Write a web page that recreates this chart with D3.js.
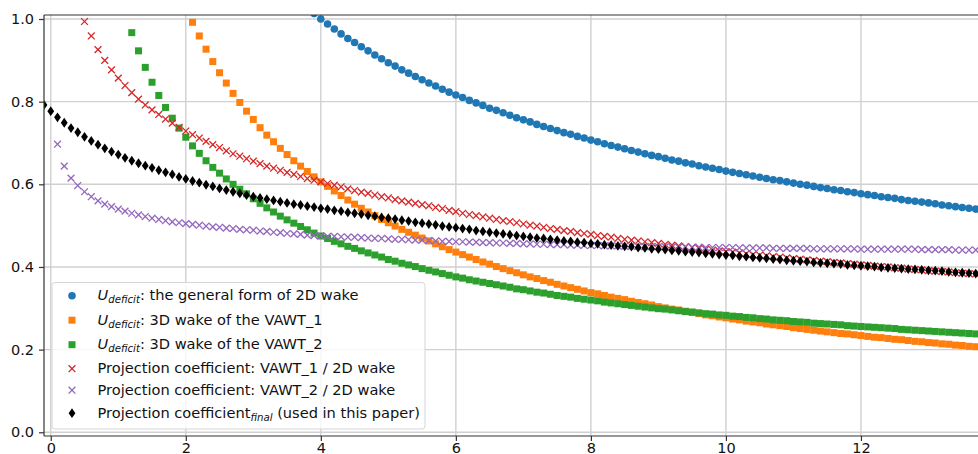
<!DOCTYPE html>
<html>
<head>
<meta charset="utf-8">
<script src="https://cdn.jsdelivr.net/npm/d3@7"></script>
<style>
  html, body { margin: 0; padding: 0; background: #fff; }
  svg { display: block; font-family: "DejaVu Sans", sans-serif; }
</style>
</head>
<body>
<div id="main"></div>
<script>
const w = 978, h = 454;

// sample spacing along x (all series are sampled every 0.1)
const step = 0.1;

// U_deficit, general 2D wake (x from 3.8)
const blueStart = 3.8;
const blueY = [
  1.026, 1.013,
  1.000, 0.988, 0.976, 0.964, 0.953, 0.943, 0.933, 0.923, 0.913, 0.904,
  0.894, 0.886, 0.877, 0.869, 0.861, 0.853, 0.845, 0.838, 0.830, 0.823,
  0.816, 0.810, 0.803, 0.797, 0.791, 0.784, 0.779, 0.773, 0.767, 0.761,
  0.756, 0.751, 0.745, 0.740, 0.735, 0.730, 0.725, 0.721, 0.716, 0.712,
  0.707, 0.703, 0.698, 0.694, 0.690, 0.686, 0.682, 0.678, 0.674, 0.670,
  0.667, 0.663, 0.659, 0.656, 0.652, 0.649, 0.645, 0.642, 0.639, 0.636,
  0.632, 0.629, 0.626, 0.623, 0.620, 0.617, 0.614, 0.611, 0.609, 0.606,
  0.603, 0.600, 0.598, 0.595, 0.592, 0.590, 0.587, 0.585, 0.582, 0.580,
  0.577, 0.575, 0.573, 0.570, 0.568, 0.566, 0.563, 0.561, 0.559, 0.557,
  0.555, 0.553, 0.550, 0.548, 0.546, 0.544, 0.542, 0.540, 0.538, 0.536
];

// U_deficit, 3D wake of VAWT_1 (x from 2.1)
const orangeStart = 2.1;
const orangeY = [
  0.992, 0.959, 0.927, 0.897, 0.870, 0.845, 0.820, 0.798, 0.777,
  0.757, 0.737, 0.719, 0.703, 0.687, 0.672, 0.657, 0.644, 0.631, 0.618,
  0.606, 0.595, 0.584, 0.573, 0.562, 0.552, 0.542, 0.533, 0.524, 0.515,
  0.507, 0.499, 0.491, 0.484, 0.477, 0.470, 0.463, 0.456, 0.449, 0.442,
  0.436, 0.430, 0.424, 0.418, 0.412, 0.407, 0.401, 0.396, 0.391, 0.386,
  0.381, 0.376, 0.372, 0.367, 0.363, 0.358, 0.354, 0.350, 0.346, 0.342,
  0.338, 0.335, 0.331, 0.327, 0.324, 0.321, 0.317, 0.314, 0.311, 0.308,
  0.304, 0.301, 0.298, 0.296, 0.293, 0.290, 0.287, 0.284, 0.282, 0.279,
  0.277, 0.274, 0.272, 0.269, 0.267, 0.265, 0.262, 0.260, 0.258, 0.256,
  0.253, 0.251, 0.249, 0.247, 0.245, 0.243, 0.241, 0.239, 0.238, 0.236,
  0.234, 0.232, 0.230, 0.229, 0.227, 0.225, 0.224, 0.222, 0.220, 0.219,
  0.217, 0.216, 0.214, 0.213, 0.211, 0.210, 0.208, 0.207, 0.205, 0.204
];

// U_deficit, 3D wake of VAWT_2 (x from 1.2)
const greenStart = 1.2;
const greenY = [
  0.967, 0.923, 0.883, 0.847, 0.815, 0.786, 0.760, 0.736,
  0.714, 0.693, 0.675, 0.657, 0.641, 0.627, 0.613, 0.600, 0.588, 0.577,
  0.565, 0.554, 0.543, 0.533, 0.523, 0.514, 0.506, 0.498, 0.490, 0.482,
  0.475, 0.469, 0.462, 0.456, 0.450, 0.445, 0.439, 0.434, 0.429, 0.424,
  0.418, 0.414, 0.409, 0.405, 0.401, 0.396, 0.392, 0.388, 0.384, 0.380,
  0.376, 0.373, 0.369, 0.366, 0.363, 0.360, 0.357, 0.354, 0.351, 0.347,
  0.345, 0.342, 0.339, 0.337, 0.334, 0.331, 0.329, 0.327, 0.324, 0.322,
  0.320, 0.318, 0.315, 0.313, 0.311, 0.309, 0.307, 0.305, 0.303, 0.301,
  0.299, 0.298, 0.296, 0.294, 0.292, 0.291, 0.289, 0.287, 0.286, 0.284,
  0.283, 0.281, 0.280, 0.278, 0.277, 0.275, 0.274, 0.272, 0.271, 0.270,
  0.268, 0.267, 0.266, 0.264, 0.263, 0.262, 0.261, 0.260, 0.258, 0.257,
  0.256, 0.255, 0.254, 0.253, 0.252, 0.251, 0.249, 0.248, 0.247, 0.246,
  0.245, 0.244, 0.243, 0.242, 0.241, 0.240, 0.239, 0.238, 0.237, 0.236
];

// projection coefficient VAWT_1 / 2D wake (x from 0.5)
const redStart = 0.5;
const redY = [
  0.994, 0.959, 0.926, 0.900, 0.877,
  0.857, 0.839, 0.822, 0.806, 0.792, 0.780, 0.769, 0.758, 0.748, 0.738,
  0.729, 0.720, 0.712, 0.704, 0.696, 0.689, 0.681, 0.674, 0.668, 0.662,
  0.656, 0.650, 0.644, 0.639, 0.634, 0.629, 0.624, 0.619, 0.614, 0.610,
  0.606, 0.602, 0.598, 0.594, 0.589, 0.585, 0.581, 0.578, 0.574, 0.570,
  0.567, 0.563, 0.560, 0.557, 0.554, 0.551, 0.548, 0.544, 0.541, 0.537,
  0.534, 0.530, 0.527, 0.524, 0.521, 0.518, 0.515, 0.512, 0.510, 0.507,
  0.504, 0.501, 0.499, 0.496, 0.493, 0.491, 0.488, 0.486, 0.483, 0.481,
  0.479, 0.476, 0.474, 0.472, 0.469, 0.467, 0.465, 0.463, 0.461, 0.459,
  0.457, 0.455, 0.453, 0.451, 0.449, 0.447, 0.445, 0.443, 0.441, 0.439,
  0.437, 0.436, 0.434, 0.432, 0.430, 0.429, 0.427, 0.425, 0.424, 0.422,
  0.420, 0.419, 0.417, 0.416, 0.414, 0.413, 0.411, 0.410, 0.408, 0.407,
  0.405, 0.404, 0.402, 0.401, 0.400, 0.398, 0.397, 0.395, 0.394, 0.393,
  0.391, 0.390, 0.389, 0.388, 0.386, 0.385, 0.384, 0.383, 0.381, 0.380
];

// projection coefficient VAWT_2 / 2D wake (x from 0.1)
const purpleStart = 0.1;
const purpleY = [
  0.697, 0.644, 0.615, 0.597, 0.582, 0.570, 0.560, 0.552, 0.546,
  0.540, 0.535, 0.530, 0.526, 0.522, 0.518, 0.515, 0.512, 0.509, 0.507,
  0.505, 0.503, 0.501, 0.499, 0.497, 0.496, 0.494, 0.493, 0.491, 0.490,
  0.489, 0.487, 0.486, 0.484, 0.483, 0.481, 0.480, 0.479, 0.477, 0.476,
  0.475, 0.474, 0.474, 0.473, 0.472, 0.472, 0.471, 0.470, 0.469, 0.469,
  0.468, 0.467, 0.467, 0.466, 0.465, 0.465, 0.464, 0.463, 0.462, 0.462,
  0.461, 0.461, 0.460, 0.460, 0.459, 0.459, 0.458, 0.458, 0.457, 0.457,
  0.456, 0.456, 0.455, 0.455, 0.454, 0.454, 0.454, 0.453, 0.453, 0.452,
  0.452, 0.452, 0.451, 0.451, 0.451, 0.450, 0.450, 0.450, 0.449, 0.449,
  0.449, 0.449, 0.448, 0.448, 0.448, 0.448, 0.448, 0.447, 0.447, 0.447,
  0.447, 0.447, 0.446, 0.446, 0.446, 0.446, 0.446, 0.445, 0.445, 0.445,
  0.445, 0.445, 0.445, 0.444, 0.444, 0.444, 0.444, 0.444, 0.444, 0.444,
  0.443, 0.443, 0.443, 0.443, 0.443, 0.443, 0.443, 0.443, 0.443, 0.442,
  0.442, 0.442, 0.442, 0.442, 0.441, 0.441, 0.441, 0.441, 0.441, 0.441
];

// projection coefficient final (x from -0.1)
const blackStart = -0.1;
const blackY = [
  0.792,
  0.777, 0.762, 0.749, 0.736, 0.726, 0.715, 0.705, 0.696, 0.687, 0.679,
  0.672, 0.664, 0.657, 0.651, 0.645, 0.640, 0.634, 0.629, 0.624, 0.618,
  0.613, 0.608, 0.604, 0.599, 0.595, 0.590, 0.586, 0.582, 0.578, 0.574,
  0.570, 0.567, 0.564, 0.561, 0.558, 0.555, 0.552, 0.550, 0.547, 0.545,
  0.542, 0.540, 0.537, 0.535, 0.532, 0.530, 0.528, 0.525, 0.523, 0.520,
  0.518, 0.516, 0.513, 0.511, 0.508, 0.506, 0.504, 0.502, 0.499, 0.497,
  0.495, 0.493, 0.491, 0.488, 0.486, 0.484, 0.482, 0.480, 0.478, 0.476,
  0.474, 0.472, 0.470, 0.469, 0.467, 0.465, 0.463, 0.462, 0.460, 0.459,
  0.457, 0.456, 0.454, 0.453, 0.451, 0.450, 0.449, 0.447, 0.446, 0.444,
  0.443, 0.442, 0.440, 0.439, 0.437, 0.436, 0.435, 0.433, 0.432, 0.430,
  0.429, 0.428, 0.426, 0.425, 0.423, 0.422, 0.421, 0.419, 0.418, 0.416,
  0.415, 0.414, 0.413, 0.411, 0.410, 0.409, 0.408, 0.407, 0.405, 0.404,
  0.403, 0.402, 0.401, 0.399, 0.398, 0.397, 0.396, 0.395, 0.394, 0.393,
  0.392, 0.391, 0.390, 0.388, 0.387, 0.386, 0.385, 0.384, 0.383, 0.382
];

const xTicks = [0, 2, 4, 6, 8, 10, 12, 14];
const yTicks = [0.0, 0.2, 0.4, 0.6, 0.8, 1.0];

// plot box, right edge sits outside the window like in the original crop
const plotL = 44, plotT = 15, plotB = 436, plotR = 996;

const x = d3.scaleLinear().domain([-0.1, 14.0]).range([plotL, plotR]);
const y = d3.scaleLinear().domain([-0.009, 1.0097]).range([plotB, plotT]);

const toPoints = (start, ys) => ys.map((v, i) => ({ x: +(start + i * step).toFixed(1), y: v }));

const series = [
  { name: 'blue',   color: '#1f77b4', shape: 'circle',  pts: toPoints(blueStart, blueY) },
  { name: 'orange', color: '#ff7f0e', shape: 'square',  pts: toPoints(orangeStart, orangeY) },
  { name: 'green',  color: '#2ca02c', shape: 'square',  pts: toPoints(greenStart, greenY) },
  { name: 'red',    color: '#d62728', shape: 'x',       pts: toPoints(redStart, redY) },
  { name: 'purple', color: '#9467bd', shape: 'x',       pts: toPoints(purpleStart, purpleY) },
  { name: 'black',  color: '#000000', shape: 'diamond', pts: toPoints(blackStart, blackY) }
];

const svg = d3.select('#main')
  .append('svg')
  .attr('width', w)
  .attr('height', h);

svg.append('defs').append('clipPath')
  .attr('id', 'plot-clip')
  .append('rect')
  .attr('x', plotL).attr('y', plotT)
  .attr('width', plotR - plotL).attr('height', plotB - plotT);

// grid
const grid = svg.append('g').attr('class', 'grid');
grid.selectAll('line.vx')
  .data(xTicks)
  .enter()
  .append('line')
  .attr('x1', d => x(d)).attr('x2', d => x(d))
  .attr('y1', plotT).attr('y2', plotB)
  .attr('stroke', '#d0d0d0')
  .attr('stroke-width', 1.4);
grid.selectAll('line.hy')
  .data(yTicks)
  .enter()
  .append('line')
  .attr('x1', plotL).attr('x2', plotR)
  .attr('y1', d => y(d)).attr('y2', d => y(d))
  .attr('stroke', '#d0d0d0')
  .attr('stroke-width', 1.4);

// marker drawing
function drawMarker(sel, shape, color) {
  if (shape === 'circle') {
    sel.append('circle').attr('r', 3.8).attr('fill', color);
  } else if (shape === 'square') {
    sel.append('rect')
      .attr('x', -3.5).attr('y', -3.5)
      .attr('width', 7).attr('height', 7)
      .attr('fill', color);
  } else if (shape === 'x') {
    sel.append('path')
      .attr('d', 'M-3.4,-3.4L3.4,3.4M-3.4,3.4L3.4,-3.4')
      .attr('stroke', color)
      .attr('stroke-width', 1.3)
      .attr('fill', 'none');
  } else {
    sel.append('path')
      .attr('d', 'M0,-4.9L3.4,0L0,4.9L-3.4,0Z')
      .attr('fill', color);
  }
}

const plot = svg.append('g').attr('clip-path', 'url(#plot-clip)');
series.forEach(s => {
  const g = plot.append('g').attr('class', 'series-' + s.name);
  g.selectAll('g')
    .data(s.pts)
    .enter()
    .append('g')
    .attr('transform', d => 'translate(' + x(d.x) + ',' + y(d.y) + ')')
    .each(function () { drawMarker(d3.select(this), s.shape, s.color); });
});

// axes
const xAxis = d3.axisBottom(x)
  .tickValues(xTicks)
  .tickFormat(d3.format('d'))
  .tickSize(5)
  .tickPadding(2)
  .tickSizeOuter(0);
const yAxis = d3.axisLeft(y)
  .tickValues(yTicks)
  .tickFormat(d3.format('.1f'))
  .tickSize(5)
  .tickPadding(5)
  .tickSizeOuter(0);

const xg = svg.append('g').attr('transform', 'translate(0,' + plotB + ')').call(xAxis);
const yg = svg.append('g').attr('transform', 'translate(' + plotL + ',0)').call(yAxis);
[xg, yg].forEach(g => {
  g.select('.domain').remove();
  g.selectAll('.tick line').attr('stroke', '#333').attr('stroke-width', 1.2);
  g.selectAll('.tick text')
    .attr('fill', '#111')
    .style('font-family', '"DejaVu Sans", sans-serif')
    .style('font-size', '14.5px');
});

// spines: left, top, bottom
const spines = svg.append('g')
  .attr('stroke', '#333')
  .attr('stroke-width', 1.2)
  .attr('fill', 'none');
spines.append('line').attr('x1', plotL).attr('x2', plotL).attr('y1', plotT).attr('y2', plotB);
spines.append('line').attr('x1', plotL).attr('x2', plotR).attr('y1', plotT).attr('y2', plotT);
spines.append('line').attr('x1', plotL).attr('x2', plotR).attr('y1', plotB).attr('y2', plotB);

// legend
const legendRows = [
  { s: 0, base: 300,   parts: [['U', 'it'], ['deficit', 'sub'], [': the general form of 2D wake', '']] },
  { s: 1, base: 324.5, parts: [['U', 'it'], ['deficit', 'sub'], [': 3D wake of the VAWT_1', '']] },
  { s: 2, base: 349,   parts: [['U', 'it'], ['deficit', 'sub'], [': 3D wake of the VAWT_2', '']] },
  { s: 3, base: 373,   parts: [['Projection coefficient: VAWT_1 / 2D wake', '']] },
  { s: 4, base: 394.5, parts: [['Projection coefficient: VAWT_2 / 2D wake', '']] },
  { s: 5, base: 417.5, parts: [['Projection coefficient', ''], ['final', 'sub'], [' (used in this paper)', '']] }
];

const legend = svg.append('g').attr('class', 'legend');
legend.append('rect')
  .attr('x', 52).attr('y', 282.5)
  .attr('width', 373).attr('height', 146.5)
  .attr('rx', 3).attr('ry', 3)
  .attr('fill', 'rgba(255,255,255,0.8)')
  .attr('stroke', '#d6d6d6')
  .attr('stroke-width', 1);

legendRows.forEach(r => {
  const s = series[r.s];
  const m = legend.append('g').attr('transform', 'translate(72,' + (r.base - 4.3) + ')');
  drawMarker(m, s.shape, s.color);

  const t = legend.append('text')
    .attr('x', 97.5)
    .attr('y', r.base)
    .attr('fill', '#111')
    .style('font-size', '14.6px');
  let shifted = false;
  r.parts.forEach(p => {
    const ts = t.append('tspan').text(p[0]);
    if (p[1] === 'it') ts.style('font-style', 'italic');
    if (p[1] === 'sub') {
      ts.style('font-style', 'italic').style('font-size', '10.2px').attr('dy', 3.2);
      shifted = true;
    } else if (shifted) {
      ts.attr('dy', -3.2);
      shifted = false;
    }
  });
});
</script>
</body>
</html>
